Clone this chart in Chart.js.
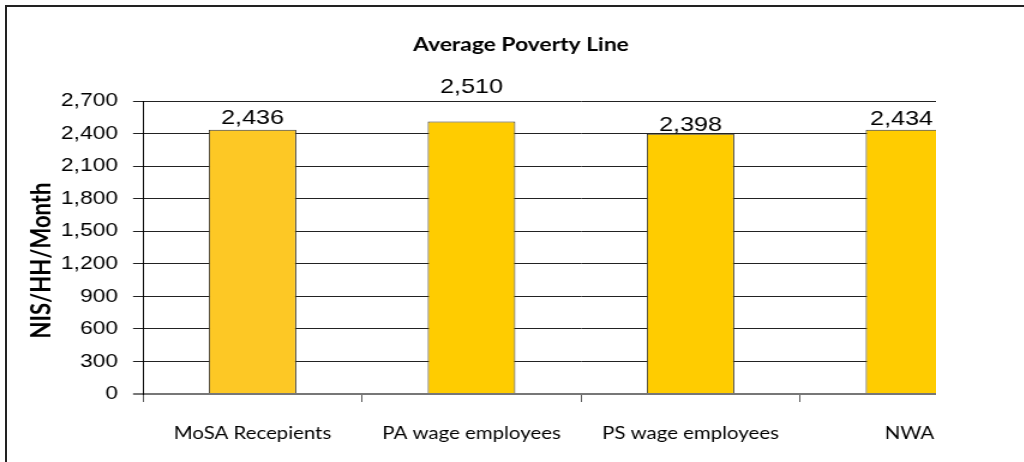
<!DOCTYPE html>
<html>
<head>
<meta charset="utf-8">
<title>Average Poverty Line</title>
<script src="https://cdn.jsdelivr.net/npm/chart.js@4.4.1/dist/chart.umd.min.js"></script>
<style>
  html, body { margin: 0; padding: 0; background: #fff; }
  body { width: 1024px; height: 462px; position: relative; overflow: hidden; }
  #frame { position: absolute; left: 5px; top: 5px; width: 1030px; height: 470px; border-top: 2px solid #222; border-left: 2px solid #222; }
  #clip { position: absolute; left: 0; top: 0; width: 936px; height: 462px; overflow: hidden; }
  #povertyChart { display: block; transform: scaleX(1.2); transform-origin: 0 0; }
</style>
</head>
<body>
<div id="frame"></div>
<div id="clip"><canvas id="povertyChart" width="868" height="462"></canvas></div>
<script>
// Data
const categories = ['MoSA Recepients', 'PA wage employees', 'PS wage employees', 'NWA'];
const povertyLine = [2436, 2510, 2398, 2434];
const yTicks = [0, 300, 600, 900, 1200, 1500, 1800, 2100, 2400, 2700];
const chartTitle = 'Average Poverty Line';
const yTitle = 'NIS/HH/Month';

// The canvas is drawn narrow and widened by CSS
const STRETCH = 1.2;
const VISIBLE_RIGHT = 933 / STRETCH;   // right edge of the shown part of the canvas
const barColors = ['#fdc825', '#ffcc00', '#ffcc00', '#ffcc00'];
// how far each value label sits above its bar
const labelLift = [6, 29, 3, 5];

const textPlugin = {
    id: 'povertyText',
    afterDatasetsDraw(chart) {
        const ctx = chart.ctx;
        const meta = chart.getDatasetMeta(0);
        ctx.save();
        ctx.fillStyle = '#000';
        ctx.textAlign = 'center';
        ctx.textBaseline = 'alphabetic';

        // value labels, kept inside the visible area
        ctx.font = '21px "Liberation Sans", Arial, sans-serif';
        meta.data.forEach((bar, i) => {
            const text = povertyLine[i].toLocaleString('en-US');
            const half = ctx.measureText(text).width / 2;
            const x = Math.min(bar.x, VISIBLE_RIGHT - half);
            ctx.fillText(text, x, bar.y - labelLift[i]);
        });

        // chart title
        ctx.font = 'bold 19px Lato, sans-serif';
        ctx.fillText(chartTitle, 521 / STRETCH, 51);

        // y axis title
        ctx.translate(50 / STRETCH, 260.5);
        ctx.rotate(-Math.PI / 2);
        ctx.font = 'bold 22px Lato, sans-serif';
        ctx.fillText(yTitle, 0, 0);
        ctx.restore();
    }
};

function drawChart() {
    const ctx = document.getElementById('povertyChart').getContext('2d');
    new Chart(ctx, {
        type: 'bar',
        data: {
            labels: categories,
            datasets: [{
                data: povertyLine,
                backgroundColor: barColors,
                borderColor: '#333',
                borderWidth: 1,
                barPercentage: 0.4,
                categoryPercentage: 1
            }]
        },
        options: {
            responsive: false,
            devicePixelRatio: 1,
            animation: false,
            layout: {
                padding: { top: 101, left: 0, right: 868 - 1019 / STRETCH, bottom: 0 }
            },
            plugins: {
                legend: { display: false },
                title: { display: false },
                tooltip: { enabled: false }
            },
            scales: {
                x: {
                    grid: {
                        offset: true,
                        drawOnChartArea: false,
                        tickLength: 8,
                        color: '#555'
                    },
                    border: { display: true, color: '#777', width: 2 },
                    ticks: {
                        color: '#000',
                        font: { family: 'Lato, sans-serif', size: 17 },
                        padding: 21,
                        maxRotation: 0,
                        autoSkip: false
                    },
                    afterFit: scale => { scale.height = 68; }
                },
                y: {
                    min: 0,
                    max: 2700,
                    afterBuildTicks: scale => {
                        scale.ticks = yTicks.map(v => ({ value: v }));
                    },
                    grid: {
                        color: c => (c.tick && c.tick.value === 0) ? '#777' : '#222',
                        lineWidth: c => (c.tick && c.tick.value === 0) ? 2 : 1,
                        tickLength: 10 / STRETCH
                    },
                    border: { display: true, color: '#000', width: 1 },
                    ticks: {
                        color: '#000',
                        font: { family: '"Liberation Sans", Arial, sans-serif', size: 19 },
                        padding: 12.5,
                        callback: v => v.toLocaleString('en-US')
                    },
                    afterFit: scale => { scale.width = 143 / STRETCH; }
                }
            }
        },
        plugins: [textPlugin]
    });
}

Promise.all([
    document.fonts.load('bold 19px Lato'),
    document.fonts.load('17px Lato'),
    document.fonts.load('19px "Liberation Sans"')
]).catch(() => {}).then(drawChart);
</script>
</body>
</html>
